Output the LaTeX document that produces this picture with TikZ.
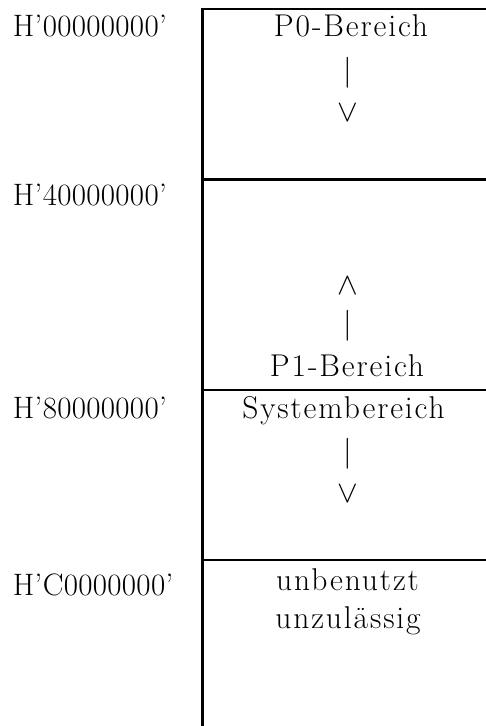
\RequirePackage{fix-cm}
\documentclass[tikz,border=0pt]{standalone}
\usepackage{fontspec}
\newfontfamily\lblfam{Latin Modern Roman}[Ligatures=TeX,LetterSpace=1]
\newfontfamily\txtfam{Latin Modern Roman}[Ligatures=TeX,LetterSpace=6]
\newcommand{\bigfont}{\fontsize{31}{37}\selectfont}
\newcommand{\lblfont}{\lblfam\fontsize{31}{37}\selectfont}
\newcommand{\spacedfont}{\txtfam\fontsize{31.5}{37}\selectfont}
\begin{document}
\begin{tikzpicture}[x=1pt,y=-1pt,
  lbl/.style={anchor=base west,inner sep=0pt,font=\lblfont},
  txt/.style={anchor=base,inner sep=0pt,font=\spacedfont},
  sym/.style={anchor=center,inner sep=0pt,font=\bigfont},
  wall/.style={line width=2.4pt}]
\useasboundingbox (0,0) rectangle (485,726);
% frame
\draw[wall] (486,9) -- (202.5,9) -- (202.5,728);
\draw[wall] (202.5,179.3) -- (486,179.3);
\draw[wall] (202.5,390) -- (486,390);
\draw[wall] (202.5,560) -- (486,560);
% address labels
\node[lbl] (a0) at (12.7,36) {H'00000000'};
\node[lbl] (a4) at (12.7,205) {H'40000000'};
\node[lbl] (a8) at (12.7,418) {H'80000000'};
\node[lbl] (ac) at (12.7,595) {H'C0000000'};
% P0 region
\node[txt] (p0) at (351,36) {P0-Bereich};
\node[sym] (p0bar) at (348.3,72.5) {$|$};
\node[sym] (p0v) at (348.3,113) {$\vee$};
% P1 region
\node[sym] (p1w) at (348.3,285.5) {$\wedge$};
\node[sym] (p1bar) at (348.3,326) {$|$};
\node[txt] (p1) at (347,376) {P1-Bereich};
% system region
\node[txt] (sys) at (343.5,418) {Systembereich};
\node[sym] (sysbar) at (348.3,454) {$|$};
\node[sym] (sysv) at (348.3,494) {$\vee$};
% unused
\node[txt] (un1) at (347.5,590) {unbenutzt};
\node[txt] (un2) at (348,628) {unzulässig};
\end{tikzpicture}
\end{document}
